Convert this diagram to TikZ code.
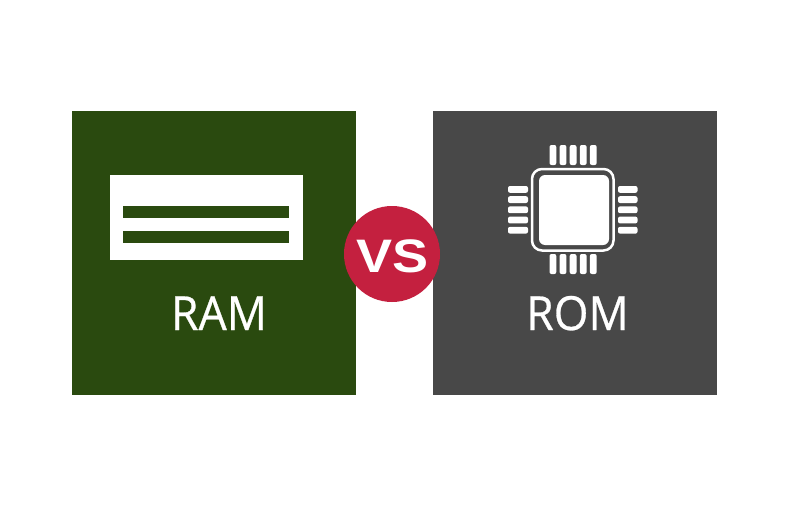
\documentclass[tikz,border=0pt]{standalone}
\usepackage{fontspec}
\setmainfont{Open Sans}
\newfontfamily\titlefont[FakeBold=0.6]{Open Sans}
\newfontfamily\vsfont{Liberation Sans}
\definecolor{ramgreen}{HTML}{2A4A0F}
\definecolor{romgrey}{HTML}{484848}
\definecolor{vsred}{HTML}{C4203F}
\tikzset{
  panel/.style={draw=none,minimum width=284pt,minimum height=284pt,inner sep=0pt,outer sep=0pt},
  title/.style={text=white,font=\titlefont\fontsize{47}{47}\selectfont,inner sep=0pt,anchor=base,xscale=0.95},
  pin/.style={fill=white,rounded corners=2pt},
  bar/.style={fill=ramgreen}
}
\begin{document}
\begin{tikzpicture}[x=1pt,y=-1pt]
\useasboundingbox (0,0) rectangle (788,506);
\fill[white] (0,0) rectangle (788,506);
\node[panel,fill=ramgreen] (ram) at (214,253) {};
\node[panel,fill=romgrey] (rom) at (575,253) {};
% RAM icon
\fill[white] (110,174.5) rectangle (303,260);
\fill[bar] (122.5,206) rectangle (289,218);
\fill[bar] (122.5,231) rectangle (289,243);
% chip
\draw[white,line width=2.5pt,rounded corners=10pt] (532,169) rectangle (613.5,250.5);
\fill[white,rounded corners=6pt] (539,175) rectangle (609,245);
\foreach \i in {0,1,2,3,4}{
  \pgfmathsetmacro{\a}{549.5+10.1*\i}
  \pgfmathsetmacro{\b}{186+10.2*\i}
  \fill[pin] (\a,145) rectangle ++(6.8,20);
  \fill[pin] (\a,254) rectangle ++(6.8,20);
  \fill[pin] (508,\b) rectangle ++(20,6.8);
  \fill[pin] (618,\b) rectangle ++(19.5,6.8);
}
\node[title] (ramtext) at (219,330) {RAM};
\node[title] (romtext) at (577.5,330) {ROM};
% VS badge
\node[circle,fill=vsred,minimum size=96pt,inner sep=0pt] (badge) at (392,254) {};
\node[text=white,font=\vsfont\bfseries\fontsize{47}{47}\selectfont,inner sep=0pt,anchor=base,xscale=1.15] (vs) at (392.5,272.5) {VS};
\end{tikzpicture}
\end{document}
